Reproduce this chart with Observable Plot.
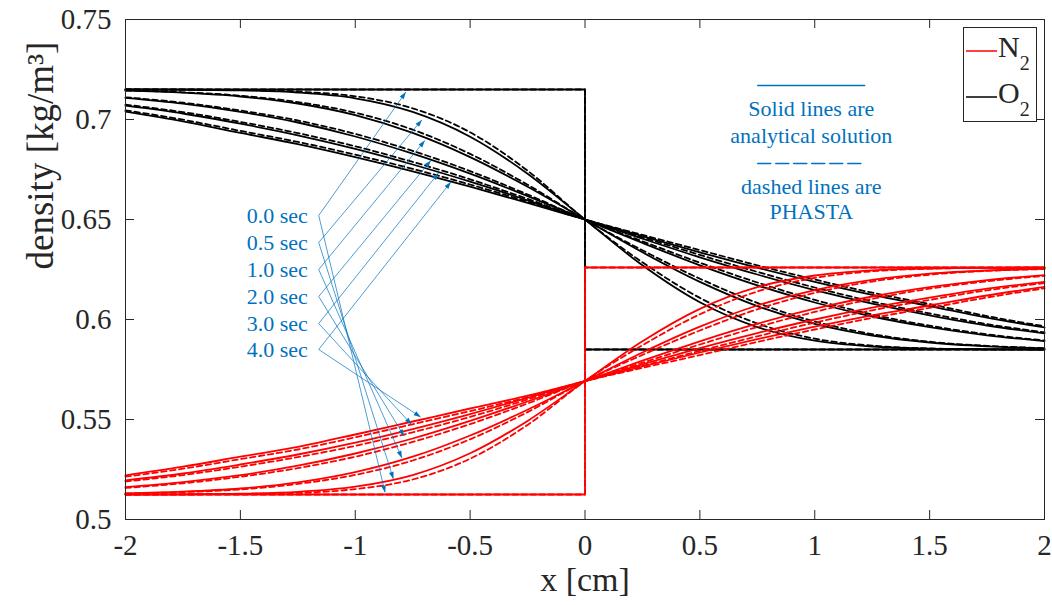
<!DOCTYPE html>
<html><head><meta charset="utf-8">
<script src="https://cdn.jsdelivr.net/npm/d3@7"></script>
<script src="https://cdn.jsdelivr.net/npm/@observablehq/plot@0.6"></script>
<style>
body{margin:0;background:#fff;}
#chart{position:relative;width:1052px;height:605px;font-family:"Liberation Serif","Times New Roman",serif;}
#legend{position:absolute;left:963px;top:27px;}
</style></head><body><div id="chart"></div>
<script>
// ---- data ----
const xGrid = [-2,-1.75,-1.5,-1.25,-1,-0.75,-0.5,-0.25,0,0.25,0.5,0.75,1,1.25,1.5,1.75,2];
const xTicks = [-2,-1.5,-1,-0.5,0,0.5,1,1.5,2];
const yTicks = [0.5,0.55,0.6,0.65,0.7,0.75];
const times = ["0.5","1","2","3","4"];
const stepX = [-2,0,0,2];
const o2Step = [0.715,0.715,0.585,0.585];
const n2Step = [0.5125,0.5125,0.626,0.626];

const o2Solid05 = [0.7150,0.7149,0.7146,0.7135,0.7106,0.7038,0.6914,0.6729,0.6500,0.6271,0.6086,0.5962,0.5894,0.5865,0.5854,0.5851,0.5850];
const o2Solid1  = [0.7144,0.7134,0.7115,0.7080,0.7022,0.6933,0.6812,0.6664,0.6500,0.6336,0.6188,0.6067,0.5978,0.5920,0.5885,0.5866,0.5856];
const o2Solid2  = [0.7108,0.7079,0.7038,0.6985,0.6915,0.6829,0.6729,0.6617,0.6500,0.6383,0.6271,0.6171,0.6085,0.6015,0.5962,0.5921,0.5892];
const o2Solid3  = [0.7069,0.7030,0.6979,0.6921,0.6853,0.6775,0.6689,0.6596,0.6500,0.6404,0.6311,0.6225,0.6147,0.6079,0.6021,0.5970,0.5931];
const o2Solid4  = [0.7040,0.6991,0.6933,0.6877,0.6812,0.6741,0.6664,0.6583,0.6500,0.6417,0.6336,0.6259,0.6188,0.6123,0.6067,0.6009,0.5960];

const o2Dash05 = [0.7150,0.7149,0.7147,0.7139,0.7116,0.7056,0.6936,0.6744,0.6500,0.6286,0.6108,0.5980,0.5904,0.5869,0.5855,0.5851,0.5850];
const o2Dash1  = [0.7145,0.7136,0.7119,0.7087,0.7034,0.6949,0.6828,0.6674,0.6500,0.6346,0.6204,0.6083,0.5990,0.5927,0.5889,0.5868,0.5857];
const o2Dash2  = [0.7111,0.7084,0.7045,0.6995,0.6928,0.6843,0.6742,0.6625,0.6500,0.6391,0.6284,0.6185,0.6098,0.6025,0.5969,0.5926,0.5895];
const o2Dash3  = [0.7074,0.7037,0.6988,0.6932,0.6866,0.6788,0.6701,0.6603,0.6500,0.6411,0.6323,0.6238,0.6160,0.6090,0.6030,0.5977,0.5936];
const o2Dash4  = [0.7046,0.6999,0.6943,0.6888,0.6824,0.6753,0.6675,0.6589,0.6500,0.6423,0.6347,0.6271,0.6200,0.6134,0.6077,0.6017,0.5966];

const n2Solid05 = [0.5125,0.5126,0.5129,0.5138,0.5164,0.5222,0.5331,0.5493,0.5692,0.5891,0.6053,0.6162,0.6220,0.6246,0.6255,0.6258,0.6259];
const n2Solid1  = [0.5131,0.5139,0.5155,0.5186,0.5237,0.5314,0.5420,0.5549,0.5692,0.5835,0.5964,0.6070,0.6147,0.6198,0.6229,0.6245,0.6253];
const n2Solid2  = [0.5162,0.5187,0.5222,0.5269,0.5330,0.5405,0.5493,0.5590,0.5692,0.5794,0.5891,0.5979,0.6054,0.6115,0.6162,0.6197,0.6222];
const n2Solid3  = [0.5196,0.5230,0.5275,0.5325,0.5384,0.5452,0.5527,0.5608,0.5692,0.5776,0.5857,0.5932,0.6000,0.6059,0.6109,0.6154,0.6188];
const n2Solid4  = [0.5221,0.5264,0.5314,0.5363,0.5425,0.5490,0.5555,0.5619,0.5692,0.5765,0.5835,0.5902,0.5964,0.6021,0.6070,0.6120,0.6163];

const n2Dash05 = [0.5125,0.5126,0.5128,0.5133,0.5152,0.5200,0.5304,0.5473,0.5692,0.5871,0.6026,0.6140,0.6208,0.6241,0.6254,0.6258,0.6259];
const n2Dash1  = [0.5130,0.5137,0.5150,0.5178,0.5223,0.5295,0.5401,0.5537,0.5692,0.5823,0.5945,0.6051,0.6133,0.6190,0.6224,0.6243,0.6252];
const n2Dash2  = [0.5158,0.5181,0.5214,0.5257,0.5314,0.5388,0.5477,0.5580,0.5692,0.5784,0.5875,0.5962,0.6038,0.6103,0.6154,0.6191,0.6218];
const n2Dash3  = [0.5190,0.5222,0.5264,0.5312,0.5368,0.5436,0.5513,0.5600,0.5692,0.5768,0.5843,0.5916,0.5984,0.6046,0.6098,0.6146,0.6182];
const n2Dash4  = [0.5214,0.5254,0.5302,0.5350,0.5411,0.5476,0.5542,0.5612,0.5692,0.5758,0.5822,0.5888,0.5950,0.6008,0.6058,0.6110,0.6156];

// annotation: time labels with arrows
const labelTexts = ["0.0 sec","0.5 sec","1.0 sec","2.0 sec","3.0 sec","4.0 sec"];
const labelX = -1.159;
const labelY = [0.652,0.6385,0.625,0.6115,0.598,0.585];
const upTipX = [-0.780,-0.710,-0.697,-0.671,-0.638,-0.584];
const upTipY = [0.7137,0.6998,0.6895,0.6795,0.6732,0.6687];
const lowTipX = [-0.870,-0.834,-0.797,-0.787,-0.755,-0.715];
const lowTipY = [0.5135,0.5203,0.5308,0.5417,0.5475,0.5512];

// annotation: note block
const noteX = 0.985;
const noteLines = ["Solid lines are","analytical solution","dashed lines are","PHASTA"];
const noteY = [0.7053,0.692,0.6662,0.6537];
const noteRuleX = [0.752,1.217];
const noteSolidY = 0.717;
const noteDashY = 0.678;

// ---- build ----
const BLUE = "#0072BD", RED = "#FF0000", BLACK = "#000000", AX = "#262626";
const toRows = (ys, t, xs = xGrid) => xs.map((x, i) => ({x, y: ys[i], t}));
const o2S = [o2Solid05,o2Solid1,o2Solid2,o2Solid3,o2Solid4].flatMap((a,i)=>toRows(a,times[i]));
const o2D = [o2Dash05,o2Dash1,o2Dash2,o2Dash3,o2Dash4].flatMap((a,i)=>toRows(a,times[i]));
const n2S = [n2Solid05,n2Solid1,n2Solid2,n2Solid3,n2Solid4].flatMap((a,i)=>toRows(a,times[i]));
const n2D = [n2Dash05,n2Dash1,n2Dash2,n2Dash3,n2Dash4].flatMap((a,i)=>toRows(a,times[i]));
const o2St = toRows(o2Step,"0",stepX);
const n2St = toRows(n2Step,"0",stepX);

const base = {
  width: 1052, height: 605,
  marginLeft: 125, marginRight: 8, marginTop: 19, marginBottom: 86,
  x: {domain: [-2,2], ticks: xTicks, tickFormat: d => String(d), tickSize: 0, tickPadding: 15, label: null},
  y: {domain: [0.5,0.75], ticks: yTicks, tickFormat: d => String(d), tickSize: 0, tickPadding: 14, label: null},
  style: {fontFamily: '"Liberation Serif","Times New Roman",serif', fontSize: "29px", background: "white", color: AX}
};

const p0 = Plot.plot({...base, marks: [Plot.frame()]});
const sx = p0.scale("x"), sy = p0.scale("y");

const arrows = [];
labelTexts.forEach((t,i) => {
  arrows.push({x1: labelX, y1: labelY[i], x2: upTipX[i], y2: upTipY[i]});
  arrows.push({x1: labelX, y1: labelY[i], x2: lowTipX[i], y2: lowTipY[i]});
});
arrows.forEach(a => {
  const dx = sx.apply(a.x2) - sx.apply(a.x1);
  const dy = sy.apply(a.y2) - sy.apply(a.y1);
  a.angle = Math.atan2(dx, -dy) * 180 / Math.PI;
});
const headShape = {draw(ctx, l, r) { ctx.moveTo(0, -l); ctx.lineTo(-r, 0); ctx.lineTo(r, 0); ctx.closePath(); }};

const lw = 1.8, dash = "5.5,3.5";
const plot = Plot.plot({
  ...base,
  marks: [
    Plot.line(o2S, {x: "x", y: "y", z: "t", stroke: BLACK, strokeWidth: lw, curve: "monotone-x"}),
    Plot.line(o2D, {x: "x", y: "y", z: "t", stroke: BLACK, strokeWidth: lw, strokeDasharray: dash, curve: "monotone-x"}),
    Plot.line(o2St, {x: "x", y: "y", stroke: BLACK, strokeWidth: lw}),
    Plot.line(o2St, {x: "x", y: "y", stroke: BLACK, strokeWidth: lw, strokeDasharray: dash}),
    Plot.line(n2S, {x: "x", y: "y", z: "t", stroke: RED, strokeWidth: lw, curve: "monotone-x"}),
    Plot.line(n2D, {x: "x", y: "y", z: "t", stroke: RED, strokeWidth: lw, strokeDasharray: dash, curve: "monotone-x"}),
    Plot.line(n2St, {x: "x", y: "y", stroke: RED, strokeWidth: lw}),
    Plot.line(n2St, {x: "x", y: "y", stroke: RED, strokeWidth: lw, strokeDasharray: dash}),
    // time-label arrows
    Plot.link(arrows, {x1: "x1", y1: "y1", x2: "x2", y2: "y2", stroke: BLUE, strokeWidth: 0.7}),
    Plot.vector(arrows, {x: "x2", y: "y2", rotate: "angle", length: 7, r: 2.4, anchor: "end", shape: headShape, fill: BLUE, stroke: "none"}),
    Plot.text(labelTexts, {x: () => labelX, y: (d,i) => labelY[i], text: d => d, textAnchor: "end", dx: -11, fill: BLUE, fontSize: 22}),
    // note block
    Plot.line(noteRuleX, {x: d => d, y: () => noteSolidY, stroke: BLUE, strokeWidth: 1.6}),
    Plot.line(noteRuleX, {x: d => d, y: () => noteDashY, stroke: BLUE, strokeWidth: 1.6, strokeDasharray: "13,5"}),
    Plot.text(noteLines, {x: () => noteX, y: (d,i) => noteY[i], text: d => d, fill: BLUE, fontSize: 22}),
    // frame and inward ticks
    Plot.frame({stroke: AX, strokeWidth: 1}),
    Plot.tickX(xTicks, {x: d => d, insetTop: 491, stroke: AX}),
    Plot.tickX(xTicks, {x: d => d, insetBottom: 491, stroke: AX}),
    Plot.tickY(yTicks, {y: d => d, insetRight: 910, stroke: AX}),
    Plot.tickY(yTicks, {y: d => d, insetLeft: 910, stroke: AX}),
    // axis titles
    Plot.text(["density [kg/m³]"], {frameAnchor: "left", dx: -84, rotate: -90, text: d => d, fill: AX, fontSize: 37}),
    Plot.text(["x [cm]"], {frameAnchor: "bottom", dy: 71, text: d => d, fill: AX, fontSize: 34})
  ]
});
const chart = document.getElementById("chart");
chart.appendChild(plot);

// legend (inside the axes, top right)
const lg = document.createElement("div");
lg.id = "legend";
lg.innerHTML = `<svg width="74" height="95" style="display:block">
  <rect x="0.5" y="0.5" width="73" height="94" fill="white" stroke="${AX}" stroke-width="1"/>
  <line x1="3" x2="34" y1="24" y2="24" stroke="${RED}" stroke-width="1.5"/>
  <text x="35" y="30" font-family="Liberation Serif" font-size="30" fill="${AX}">N<tspan dy="13" font-size="20">2</tspan></text>
  <line x1="3" x2="34" y1="70" y2="70" stroke="${BLACK}" stroke-width="1.5"/>
  <text x="35" y="76" font-family="Liberation Serif" font-size="30" fill="${AX}">O<tspan dy="13" font-size="20">2</tspan></text>
</svg>`;
chart.appendChild(lg);
</script>
</body></html>
